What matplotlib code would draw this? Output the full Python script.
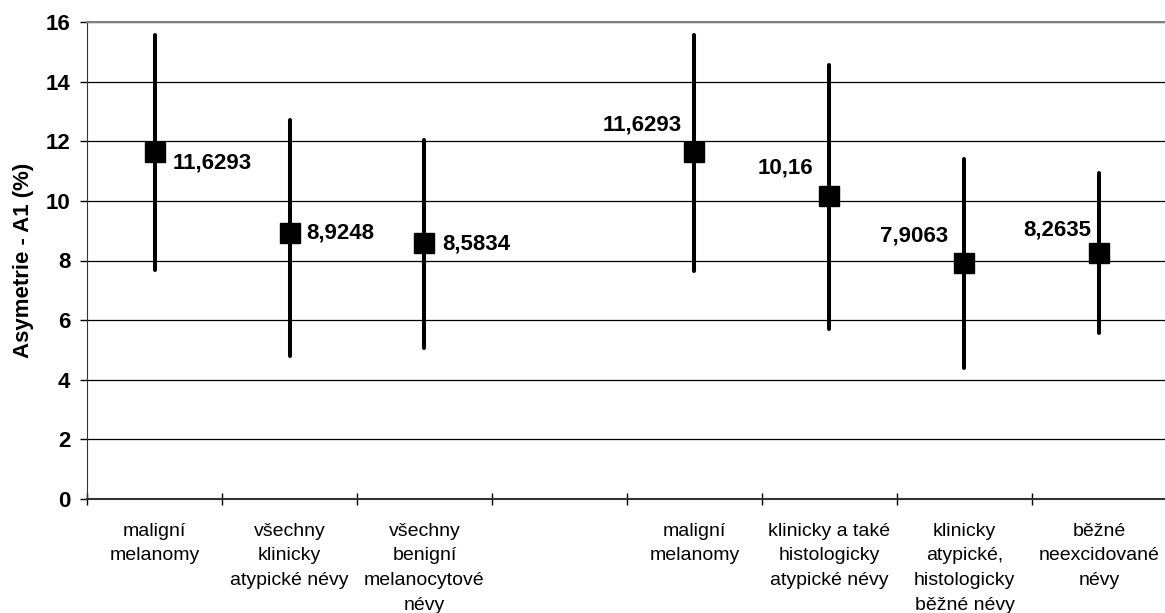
import numpy as np
import matplotlib
matplotlib.use('Agg')
import matplotlib.pyplot as plt
from matplotlib.ticker import FixedLocator

plt.rcParams['font.family'] = ['Liberation Sans', 'DejaVu Sans']

categories = ['maligní\nmelanomy',
              'všechny\nklinicky\natypické névy',
              'všechny\nbenigní\nmelanocytové\nnévy',
              '',
              'maligní\nmelanomy',
              'klinicky a také\nhistologicky\natypické névy',
              'klinicky\natypické,\nhistologicky\nběžné névy',
              'běžné\nneexcidované\nnévy']
means = [11.6293, 8.9248, 8.5834, np.nan, 11.6293, 10.16, 7.9063, 8.2635]
upper = [15.57, 12.72, 12.03, np.nan, 15.57, 14.57, 11.39, 10.92]
lower = [7.67, 4.79, 5.08, np.nan, 7.66, 5.69, 4.38, 5.57]

# label placement (pixel offsets from the marker)
label_offsets = [(18, -11), (17, 0), (18, -1), None, (-13, 27), (-16, 28), (-16, 27), (-8, 23)]

fig = plt.figure(figsize=(11.65, 6.13), dpi=100)
W, H = 1165, 613
ax = fig.add_axes([87 / W, (H - 499) / H, (1167 - 87) / W, (499 - 22) / H])

x = np.arange(len(categories))

ax.set_axisbelow(True)
ax.yaxis.grid(True, color='black', linewidth=0.9)

ax.vlines(x, lower, upper, color='black', linewidth=2.9, capstyle='round', zorder=3)
ax.plot(x, means, linestyle='none', marker='s', markersize=15, color='black', zorder=4)

for i, m in enumerate(means):
    if np.isnan(m):
        continue
    dx, dy = label_offsets[i]
    ha = 'left' if dx > 0 and i < 3 else 'right'
    ax.annotate(f'{m}'.replace('.', ','), (x[i], m), xytext=(dx, dy),
                textcoords='offset pixels', ha=ha, va='center',
                fontsize=16, fontweight='bold', zorder=5)

ax.set_xlim(-0.5, len(categories) - 0.5)
ax.set_ylim(0, 16)
ax.set_yticks(np.arange(0, 17, 2))
ax.tick_params(axis='y', labelsize=16, length=5, width=1, pad=7)
for lab in ax.get_yticklabels():
    lab.set_fontweight('bold')

ax.set_xticks(x)
ax.set_xticklabels(categories, fontsize=14, linespacing=1.6)
ax.tick_params(axis='x', which='major', length=0, pad=17)
ax.xaxis.set_minor_locator(FixedLocator(np.arange(-0.5, len(categories), 1)))
ax.tick_params(axis='x', which='minor', length=9, width=1, direction='inout')

ax.set_ylabel('Asymetrie - A1 (%)', fontsize=16, fontweight='bold', labelpad=8)

ax.spines['top'].set_color('#808080')
ax.spines['top'].set_linewidth(1.5)
ax.spines['right'].set_visible(False)
ax.spines['left'].set_color('#333333')
ax.spines['bottom'].set_color('#333333')
ax.spines['bottom'].set_linewidth(1.5)

fig.savefig('out.png', dpi=100)
